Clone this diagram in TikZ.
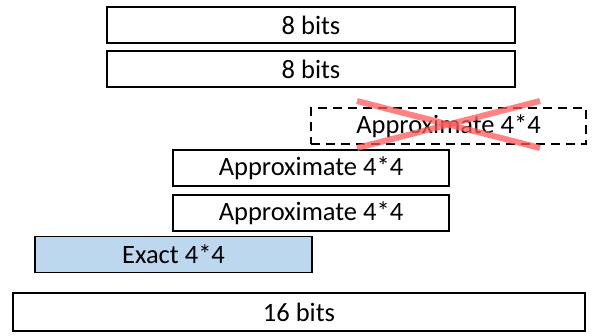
\documentclass[tikz,border=0pt]{standalone}
\usepackage{fontspec}
\setmainfont{Carlito}
\definecolor{exactblue}{RGB}{189,215,238}
\definecolor{crossred}{RGB}{255,90,90}
\begin{document}
\begin{tikzpicture}[x=1pt,y=-1pt,
  blk/.style={draw=black,line width=1.8pt,rectangle,inner sep=0pt,
    minimum height=36pt,font=\fontsize{26.5}{30}\selectfont},
  dblk/.style={blk,line width=2pt,dash pattern=on 9pt off 6pt},
  xline/.style={draw=crossred,line width=6pt,opacity=0.75}]
\useasboundingbox (0,0) rectangle (607,336);
\node[blk,minimum width=408pt] (b1) at (311,25) {8 bits};
\node[blk,minimum width=408pt] (b2) at (311,69) {8 bits};
\node[dblk,minimum width=275pt] (d) at (448.5,126.5) {Approximate 4*4};
\node[blk,minimum width=276pt] (a1) at (311,168) {Approximate 4*4};
\node[blk,minimum width=276pt] (a2) at (311,213) {Approximate 4*4};
\node[blk,fill=exactblue,minimum width=277pt] (e) at (173.5,254.5) {Exact 4*4};
\node[blk,minimum width=572pt,minimum height=38pt] (s) at (299,312) {16 bits};
\coordinate (c1) at (357,101);
\coordinate (c2) at (540,148);
\coordinate (c3) at (540,101);
\coordinate (c4) at (357,148);
\draw[xline] (c1) -- (c2);
\draw[xline] (c3) -- (c4);
\end{tikzpicture}
\end{document}
